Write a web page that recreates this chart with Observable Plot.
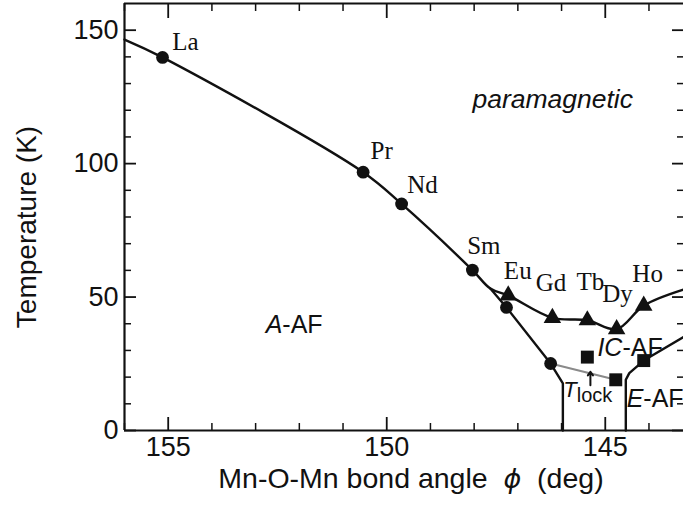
<!DOCTYPE html>
<html><head><meta charset="utf-8">
<script src="https://cdn.jsdelivr.net/npm/d3@7"></script>
<script src="https://cdn.jsdelivr.net/npm/@observablehq/plot@0.6"></script>
<style>
html,body{margin:0;padding:0;background:#fff;overflow:hidden;}
#chart svg{display:block;}
</style></head><body><div id="chart"></div>
<script>
// ---------- data (Mn-O-Mn bond angle in deg, temperature in K) ----------
// paramagnetic / ordered transition line
const paraLineAngle = [156.0, 155.13, 150.54, 149.66, 148.04, 147.63, 147.22, 146.21, 145.41, 144.74, 144.12, 143.21];
const paraLineTemp  = [146.5, 139.8, 96.8, 84.9, 60.1, 53.2, 50.6, 42.2, 41.3, 38.0, 46.8, 52.8];
// A-AF boundary
const aafLineAngle = [147.63, 147.26, 146.25, 145.97, 145.97];
const aafLineTemp  = [53.2, 46.1, 25.1, 17.7, 0];
// T_lock line (gray)
const lockLineAngle = [146.25, 144.76];
const lockLineTemp  = [25.1, 19.0];
// E-AF boundary
const eafLineAngle = [144.53, 144.53, 144.45, 144.12, 143.21];
const eafLineTemp  = [0, 19.0, 21.5, 26.2, 35.0];

// markers
const circleAngle = [155.13, 150.54, 149.66, 148.04, 147.26, 146.25];
const circleTemp  = [139.8, 96.8, 84.9, 60.1, 46.1, 25.1];
const triangleAngle = [147.22, 146.21, 145.41, 144.74, 144.12];
const triangleTemp  = [50.6, 42.2, 41.3, 38.0, 46.8];
const squareAngle = [145.41, 144.76, 144.12];
const squareTemp  = [27.5, 19.0, 26.2];

// element labels
const elementNames = ["La", "Pr", "Nd", "Sm", "Eu", "Gd", "Tb", "Dy", "Ho"];
const elementLabelAngle = [154.91, 150.37, 149.53, 148.16, 147.32, 146.59, 145.66, 145.07, 144.38];
const elementLabelTemp  = [142.4, 101.8, 88.9, 66.3, 56.9, 52.1, 52.5, 48.3, 55.8];

// phase labels
const phaseNames = ["A-AF", "IC-AF", "E-AF"];
const phaseAngle = [152.77, 145.18, 144.51];
const phaseTemp  = [36.7, 28.1, 8.7];
const paraName = ["paramagnetic"];
const paraAngle = [148.04];
const paraTemp = [121.0];
const lockName = ["Tlock"];
const lockAngle = [145.96];
const lockTemp = [12.5];
const lockArrowAngle = [145.34];
const lockArrowFrom = [17.0];
const lockArrowTo = [22.0];

// axes
const xDomain = [156, 143.21];
const yDomain = [0, 160];
const xTicksMajor = [155, 150, 145];
const xTicksMinor = [156, 154, 153, 152, 151, 149, 148, 147, 146, 144];
const yTicksMajor = [0, 50, 100, 150];
const yTicksMinor = [10, 20, 30, 40, 60, 70, 80, 90, 110, 120, 130, 140];
const xLabel = "Mn-O-Mn bond angle  \u03D5  (deg)";
const yLabel = "Temperature (K)";

// ---------- chart ----------
const sans = "'Liberation Sans', Arial, Helvetica, sans-serif";
const serif = "'Liberation Serif', 'Times New Roman', serif";
const ink = "#111";

const plot = Plot.plot({
  width: 683, height: 509,
  marginLeft: 124, marginRight: 0, marginTop: 3, marginBottom: 79,
  style: {fontFamily: sans, background: "#fff", color: ink, overflow: "hidden"},
  x: {domain: xDomain, label: null},
  y: {domain: yDomain, label: null},
  marks: [
    // frame
    Plot.ruleY([yDomain[0], yDomain[1]], {stroke: ink, strokeWidth: 2.2}),
    Plot.ruleX([xDomain[0]], {stroke: ink, strokeWidth: 2.2}),
    // inward ticks
    Plot.axisX({ticks: xTicksMajor, anchor: "bottom", tickSize: -13, fill: "none", strokeWidth: 1.8}),
    Plot.axisX({ticks: xTicksMinor, anchor: "bottom", tickSize: -7, fill: "none", strokeWidth: 1.5}),
    Plot.axisX({ticks: xTicksMajor, anchor: "top", tickSize: -14, fill: "none", strokeWidth: 1.8}),
    Plot.axisX({ticks: xTicksMinor, anchor: "top", tickSize: -7, fill: "none", strokeWidth: 1.5}),
    Plot.axisY({ticks: yTicksMajor, anchor: "left", tickSize: -12, fill: "none", strokeWidth: 1.8}),
    Plot.axisY({ticks: yTicksMinor, anchor: "left", tickSize: -7, fill: "none", strokeWidth: 1.5}),
    Plot.axisY({ticks: yTicksMajor, anchor: "right", tickSize: -12, fill: "none", strokeWidth: 1.8}),
    Plot.axisY({ticks: yTicksMinor, anchor: "right", tickSize: -7, fill: "none", strokeWidth: 1.5}),
    // tick labels
    Plot.axisX({ticks: xTicksMajor, anchor: "bottom", tickSize: 0, tickPadding: 6, stroke: "none", fontSize: 27, label: null, fill: ink}),
    Plot.axisY({ticks: yTicksMajor, anchor: "left", tickSize: 0, tickPadding: 6, stroke: "none", fontSize: 27, label: null, fill: ink}),
    // axis titles
    Plot.text([xLabel], {frameAnchor: "bottom", textAnchor: "middle", dy: 57, dx: 7, lineAnchor: "bottom", fontSize: 28.5, fill: ink}),
    Plot.text([yLabel], {frameAnchor: "left", textAnchor: "middle", rotate: -90, dx: -89, dy: 10, lineAnchor: "bottom", fontSize: 28, fill: ink}),
    // phase boundaries
    Plot.line(lockLineAngle, {x: d => d, y: (d, i) => lockLineTemp[i], stroke: "#8a8a8a", strokeWidth: 2.2}),
    Plot.line(paraLineAngle, {x: d => d, y: (d, i) => paraLineTemp[i], curve: "catmull-rom", stroke: ink, strokeWidth: 2.4}),
    Plot.line(aafLineAngle, {x: d => d, y: (d, i) => aafLineTemp[i], stroke: ink, strokeWidth: 2.4}),
    Plot.line(eafLineAngle, {x: d => d, y: (d, i) => eafLineTemp[i], stroke: ink, strokeWidth: 2.4}),
    // markers
    Plot.dot(circleAngle, {x: d => d, y: (d, i) => circleTemp[i], symbol: "circle", r: 6.4, fill: ink, stroke: "none"}),
    Plot.dot(triangleAngle, {x: d => d, y: (d, i) => triangleTemp[i], symbol: "triangle", r: 6.5, fill: ink, stroke: "none"}),
    Plot.dot(squareAngle, {x: d => d, y: (d, i) => squareTemp[i], symbol: "square", r: 7.3, fill: ink, stroke: "none"}),
    // arrow for T_lock
    Plot.arrow(lockArrowAngle, {x1: d => d, x2: d => d, y1: (d, i) => lockArrowFrom[i], y2: (d, i) => lockArrowTo[i], stroke: ink, strokeWidth: 2, headLength: 7, headAngle: 70}),
    // labels
    Plot.text(elementNames, {x: (d, i) => elementLabelAngle[i], y: (d, i) => elementLabelTemp[i], text: d => d, textAnchor: "start", lineAnchor: "bottom", fontFamily: serif, fontSize: 25, fill: ink}),
    Plot.text(paraName, {x: (d, i) => paraAngle[i], y: (d, i) => paraTemp[i], text: d => d, textAnchor: "start", lineAnchor: "bottom", fontStyle: "italic", fontSize: 26.5, fill: ink}),
    Plot.text(phaseNames, {x: (d, i) => phaseAngle[i], y: (d, i) => phaseTemp[i], text: d => d, textAnchor: "start", lineAnchor: "bottom", fontSize: 25, fill: ink}),
    Plot.text(lockName, {x: (d, i) => lockAngle[i], y: (d, i) => lockTemp[i], text: d => d, textAnchor: "start", lineAnchor: "bottom", fontSize: 22, fill: ink})
  ]
});

// rich text: italics and subscript
const rich = {
  "A-AF": [["A", {italic: true}], ["-AF"]],
  "IC-AF": [["IC", {italic: true}], ["-AF"]],
  "E-AF": [["E", {italic: true}], ["-AF"]],
  "Tlock": [["T", {italic: true}], ["lock", {size: 20, dy: 5}]],
  [xLabel]: [["Mn-O-Mn bond angle  "], ["\u03D5", {italic: true, size: 27, family: "'DejaVu Sans', sans-serif"}], ["  (deg)"]]
};
d3.select(plot).selectAll("text").each(function () {
  const spec = rich[this.textContent];
  if (!spec) return;
  const el = d3.select(this);
  el.text(null).style("white-space", "pre");
  for (const [s, o = {}] of spec) {
    const t = el.append("tspan").text(s);
    if (o.italic) t.attr("font-style", "italic");
    if (o.size) t.attr("font-size", o.size);
    if (o.family) t.attr("font-family", o.family);
    if (o.dy) t.attr("dy", o.dy);
  }
});

document.getElementById("chart").appendChild(plot);
</script>
</body></html>
